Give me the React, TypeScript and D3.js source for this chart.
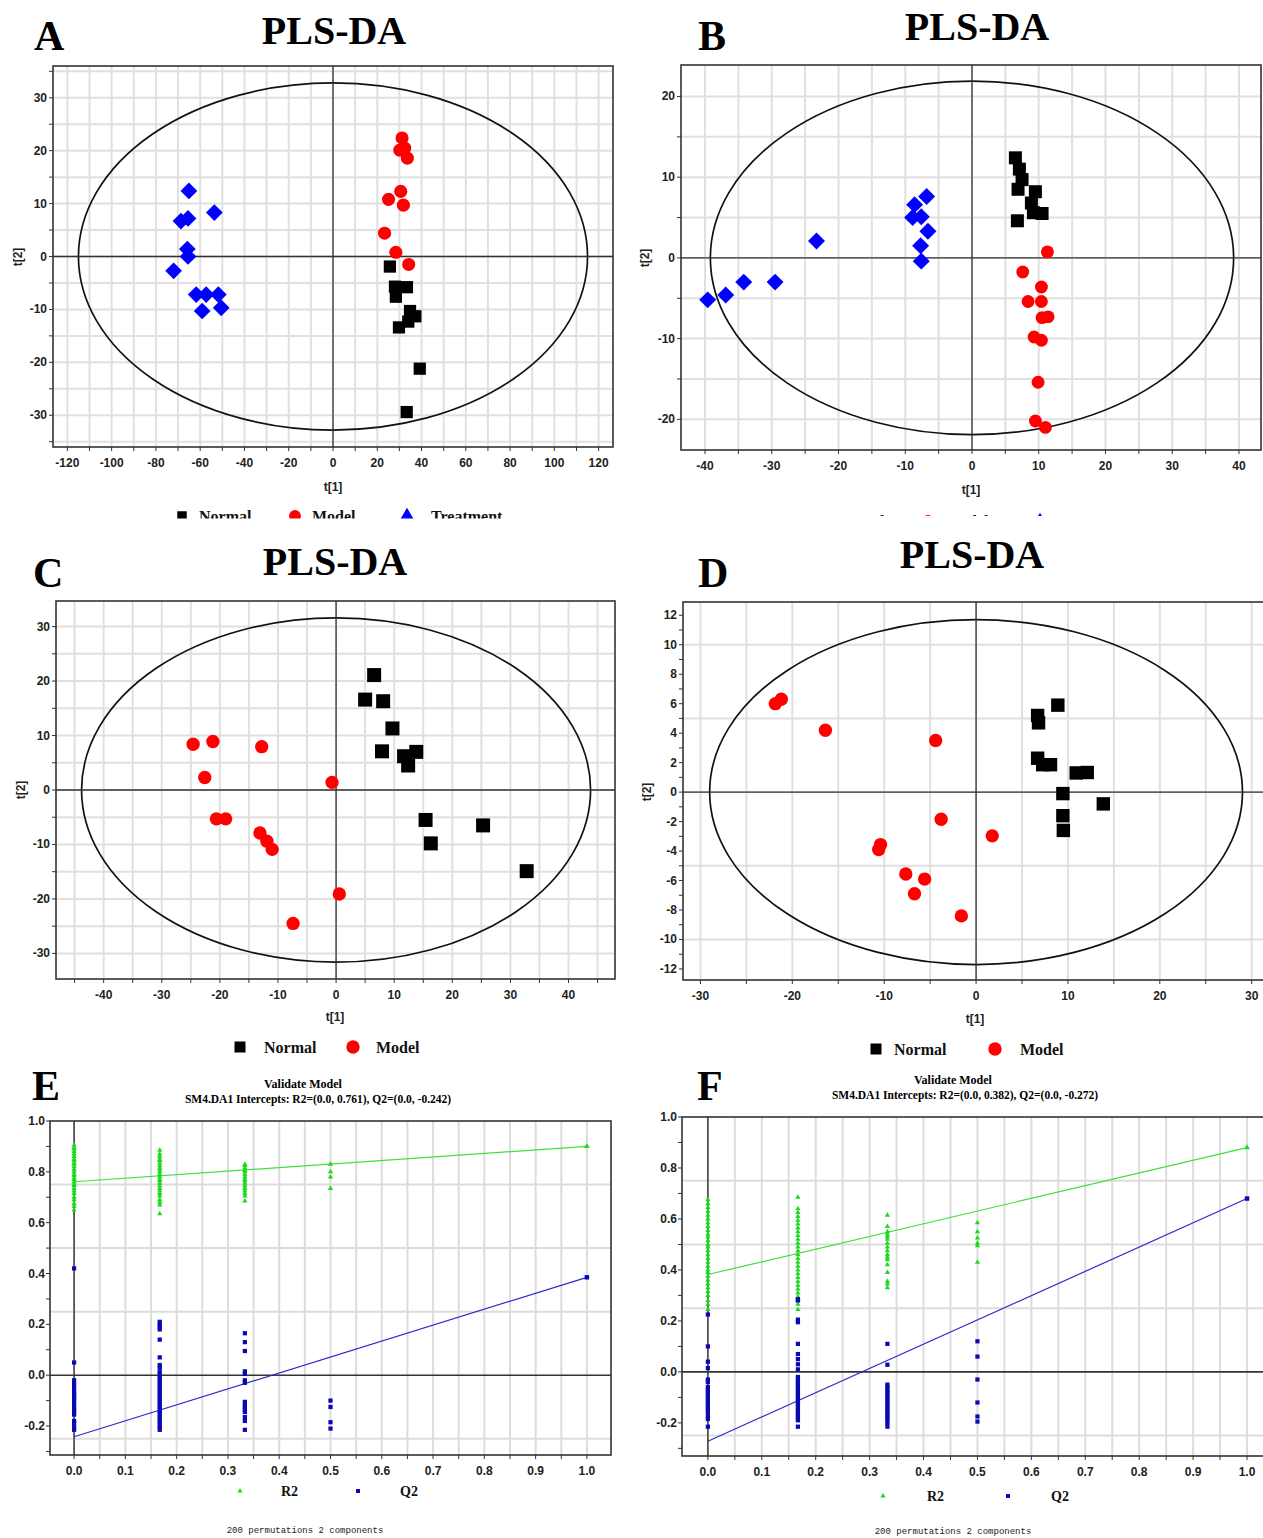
import React from "react";
import * as d3 from "d3";

type Pt = [number, number];
type Shape = "square" | "circle" | "diamond" | "triangle";

// ---------- score plots (t[1], t[2]) ----------
const aNormal: Pt[] = [[25.7, -1.9], [28, -5.7], [33.4, -5.8], [28.4, -7.6], [34.8, -10.3], [37.2, -11.3], [34, -12.3], [29.8, -13.4], [39.2, -21.2], [33.3, -29.4]];
const aModel: Pt[] = [[31.2, 22.4], [32.4, 20.5], [30.2, 20.1], [33.6, 18.6], [30.6, 12.3], [25.1, 10.8], [31.8, 9.7], [23.3, 4.4], [28.4, 0.8], [34.2, -1.5]];
const aTreatment: Pt[] = [[-65.1, 12.4], [-68.7, 6.7], [-65.5, 7.2], [-53.6, 8.3], [-65.8, 1.4], [-65.5, 0], [-72, -2.7], [-61.8, -7.2], [-57.3, -7.2], [-51.8, -7.2], [-59.1, -10.3], [-50.5, -9.7]];

const bNormal: Pt[] = [[6.5, 12.4], [7.1, 11.0], [7.5, 9.7], [6.9, 8.5], [9.5, 8.2], [8.9, 6.8], [9.2, 5.6], [10.5, 5.5], [6.8, 4.6]];
const bModel: Pt[] = [[11.3, 0.75], [7.6, -1.75], [10.4, -3.6], [8.4, -5.4], [10.4, -5.4], [10.5, -7.4], [11.4, -7.3], [9.3, -9.8], [10.4, -10.2], [9.9, -15.4], [9.5, -20.2], [11.0, -21.0]];
const bTreatment: Pt[] = [[-39.6, -5.2], [-36.9, -4.6], [-34.2, -3.0], [-29.5, -3.0], [-23.3, 2.1], [-6.8, 7.6], [-8.6, 6.6], [-8.9, 5.0], [-7.6, 5.1], [-6.6, 3.3], [-7.7, 1.5], [-7.6, -0.4]];

const cNormal: Pt[] = [[6.55, 21.1], [5.0, 16.6], [8.1, 16.3], [9.7, 11.3], [7.9, 7.1], [11.7, 6.2], [13.8, 7.0], [12.4, 4.5], [15.4, -5.5], [16.3, -9.8], [25.3, -6.5], [32.8, -14.9]];
const cModel: Pt[] = [[-24.6, 8.4], [-21.2, 8.9], [-12.8, 7.95], [-22.6, 2.3], [-0.7, 1.4], [-20.6, -5.3], [-19.0, -5.3], [-13.1, -7.9], [-11.9, -9.4], [-11.0, -10.9], [0.55, -19.1], [-7.4, -24.5]];

const dNormal: Pt[] = [[8.9, 5.9], [6.7, 5.2], [6.8, 4.7], [6.7, 2.3], [7.25, 1.86], [8.1, 1.86], [10.9, 1.3], [12.1, 1.33], [9.45, -0.1], [13.85, -0.8], [9.45, -1.6], [9.5, -2.6]];
const dModel: Pt[] = [[-21.85, 6.0], [-21.2, 6.3], [-16.4, 4.2], [-4.4, 3.5], [-3.8, -1.84], [1.76, -2.97], [-10.4, -3.56], [-10.6, -3.9], [-7.65, -5.56], [-5.6, -5.9], [-6.7, -6.9], [-1.6, -8.4]];

// tick labels
const aXTicks = [-120, -100, -80, -60, -40, -20, 0, 20, 40, 60, 80, 100, 120];
const aYTicks = [-30, -20, -10, 0, 10, 20, 30];
const bXTicks = [-40, -30, -20, -10, 0, 10, 20, 30, 40];
const bYTicks = [-20, -10, 0, 10, 20];
const cXTicks = [-40, -30, -20, -10, 0, 10, 20, 30, 40];
const cYTicks = [-30, -20, -10, 0, 10, 20, 30];
const dXTicks = [-30, -20, -10, 0, 10, 20, 30];
const dYTicks = [-12, -10, -8, -6, -4, -2, 0, 2, 4, 6, 8, 10, 12];

// ---------- permutation tests ----------
const permX = [0, 0.167, 0.333, 0.5];
const eR2: number[][] = [
  [0.905, 0.895, 0.89, 0.88, 0.87, 0.86, 0.85, 0.845, 0.835, 0.83, 0.82, 0.81, 0.8, 0.79, 0.785, 0.775, 0.77, 0.76, 0.75, 0.745, 0.735, 0.725, 0.715, 0.7, 0.69, 0.675, 0.665, 0.65],
  [0.885, 0.87, 0.86, 0.85, 0.845, 0.835, 0.825, 0.815, 0.81, 0.8, 0.79, 0.78, 0.77, 0.765, 0.755, 0.745, 0.735, 0.725, 0.715, 0.705, 0.69, 0.68, 0.67, 0.635],
  [0.83, 0.825, 0.815, 0.805, 0.8, 0.79, 0.78, 0.77, 0.765, 0.755, 0.745, 0.735, 0.725, 0.715, 0.705, 0.685],
  [0.83, 0.8, 0.78, 0.735],
];
const eQ2: number[][] = [
  [0.42, 0.05, -0.02, -0.035, -0.05, -0.065, -0.075, -0.085, -0.095, -0.11, -0.125, -0.135, -0.145, -0.155, -0.18, -0.19, -0.205, -0.215],
  [0.21, 0.2, 0.19, 0.18, 0.14, 0.07, 0.04, 0.03, 0.015, 0.005, -0.005, -0.015, -0.025, -0.035, -0.045, -0.055, -0.065, -0.075, -0.085, -0.095, -0.105, -0.115, -0.125, -0.135, -0.145, -0.155, -0.165, -0.175, -0.185, -0.195, -0.205, -0.215],
  [0.165, 0.13, 0.095, 0.015, 0.005, -0.02, -0.03, -0.105, -0.115, -0.125, -0.135, -0.145, -0.165, -0.18, -0.215],
  [-0.1, -0.125, -0.185, -0.21],
];
const eOrig = { r2: 0.9, q2: 0.385 };
const eIntercept = { r2: 0.761, q2: -0.242 };

const fR2: number[][] = [
  [0.675, 0.66, 0.645, 0.63, 0.615, 0.6, 0.585, 0.57, 0.555, 0.54, 0.53, 0.515, 0.5, 0.49, 0.475, 0.46, 0.445, 0.43, 0.415, 0.4, 0.39, 0.375, 0.36, 0.345, 0.33, 0.315, 0.3, 0.28, 0.265, 0.245],
  [0.685, 0.64, 0.625, 0.61, 0.595, 0.58, 0.565, 0.55, 0.535, 0.52, 0.505, 0.49, 0.475, 0.46, 0.445, 0.43, 0.415, 0.4, 0.385, 0.37, 0.355, 0.34, 0.325, 0.31, 0.295, 0.28, 0.265, 0.245],
  [0.615, 0.57, 0.55, 0.54, 0.53, 0.52, 0.505, 0.49, 0.475, 0.46, 0.45, 0.44, 0.42, 0.39, 0.355, 0.345, 0.33],
  [0.585, 0.55, 0.525, 0.505, 0.495, 0.43],
];
const fQ2: number[][] = [
  [0.225, 0.1, 0.04, 0.015, -0.03, -0.04, -0.06, -0.07, -0.08, -0.09, -0.1, -0.11, -0.12, -0.13, -0.14, -0.15, -0.16, -0.175, -0.185, -0.215],
  [0.285, 0.28, 0.205, 0.195, 0.11, 0.07, 0.05, 0.03, 0.01, -0.02, -0.03, -0.04, -0.05, -0.06, -0.07, -0.08, -0.09, -0.1, -0.11, -0.12, -0.13, -0.14, -0.15, -0.16, -0.17, -0.18, -0.19, -0.215],
  [0.11, 0.028, -0.05, -0.06, -0.07, -0.08, -0.09, -0.1, -0.11, -0.12, -0.13, -0.14, -0.15, -0.16, -0.17, -0.18, -0.19, -0.2, -0.215],
  [0.12, 0.06, -0.03, -0.12, -0.175, -0.195],
];
const fOrig = { r2: 0.88, q2: 0.68 };
const fIntercept = { r2: 0.382, q2: -0.272 };

const permXTicks = [0, 0.1, 0.2, 0.3, 0.4, 0.5, 0.6, 0.7, 0.8, 0.9, 1.0];
const permYTicks = [-0.2, 0, 0.2, 0.4, 0.6, 0.8, 1.0];
const permGridY = [-0.25, 0.25, 0.5, 0.75];

const SANS = "'Liberation Sans', Arial, sans-serif";
const SERIF = "'Liberation Serif', 'Times New Roman', serif";
const MONO = "'Liberation Mono', 'DejaVu Sans Mono', monospace";
const RED = "#ff0000";
const BLUE = "#0000ff";
const GREEN = "#1ed81e";
const NAVY = "#0a0ab4";

type Box = { left: number; right: number; top: number; bottom: number };

// multiples of step inside [lo, hi]
function steps(dom: number[], step: number) {
  const a = Math.ceil(dom[0] / step - 1e-9);
  const b = Math.floor(dom[1] / step + 1e-9);
  return d3.range(a, b + 1).map((k) => +(k * step).toFixed(6));
}

function Marker({ shape, color, size, cx, cy }: { shape: Shape; color: string; size: number; cx: number; cy: number }) {
  const type = shape === "circle" ? d3.symbolCircle : shape === "triangle" ? d3.symbolTriangle : d3.symbolSquare;
  const d = d3.symbol().type(type).size(size)() as string;
  const rot = shape === "diamond" ? " rotate(45)" : "";
  return <path d={d} transform={`translate(${cx},${cy})${rot}`} fill={color} />;
}

type Series = { data: Pt[]; shape: Shape; color: string; size: number };

function ScatterPanel(props: {
  id: string; box: Box; xDom: number[]; yDom: number[]; xTicks: number[]; yTicks: number[];
  xMinor: number; yMinor: number; gridX: number; gridY: number; ellipse: number[]; series: Series[];
  xTitle: number[]; yTitle: number[];
}) {
  const { id, box, xDom, yDom, xTicks, yTicks, xMinor, yMinor, gridX, gridY, ellipse, series } = props;
  const x = d3.scaleLinear().domain(xDom).range([box.left, box.right]);
  const y = d3.scaleLinear().domain(yDom).range([box.bottom, box.top]);
  return (
    <g>
      <defs>
        <clipPath id={id}>
          <rect x={box.left} y={box.top} width={box.right - box.left} height={box.bottom - box.top} />
        </clipPath>
      </defs>
      <g clipPath={`url(#${id})`}>
        {steps(xDom, gridX).map((v) => (
          <line key={"gx" + v} x1={x(v)} x2={x(v)} y1={box.top} y2={box.bottom} stroke="#e0e0e0" strokeWidth={2} />
        ))}
        {steps(yDom, gridY).map((v) => (
          <line key={"gy" + v} x1={box.left} x2={box.right} y1={y(v)} y2={y(v)} stroke="#e0e0e0" strokeWidth={2} />
        ))}
        <ellipse cx={x(0)} cy={y(0)} rx={x(ellipse[0]) - x(0)} ry={y(0) - y(ellipse[1])} fill="none" stroke="#111" strokeWidth={1.7} />
        <line x1={x(0)} x2={x(0)} y1={box.top} y2={box.bottom} stroke="#333" strokeWidth={1.3} />
        <line x1={box.left} x2={box.right} y1={y(0)} y2={y(0)} stroke="#333" strokeWidth={1.3} />
        {series.map((s, i) =>
          s.data.map((p, j) => <Marker key={i + "-" + j} shape={s.shape} color={s.color} size={s.size} cx={x(p[0])} cy={y(p[1])} />)
        )}
      </g>
      <rect x={box.left} y={box.top} width={box.right - box.left} height={box.bottom - box.top} fill="none" stroke="#333" strokeWidth={1.6} />
      {steps(xDom, xMinor).map((v) => (
        <line key={"tx" + v} x1={x(v)} x2={x(v)} y1={box.bottom} y2={box.bottom + 4} stroke="#333" strokeWidth={1} />
      ))}
      {steps(yDom, yMinor).map((v) => (
        <line key={"ty" + v} x1={box.left - 4} x2={box.left} y1={y(v)} y2={y(v)} stroke="#333" strokeWidth={1} />
      ))}
      <g fontFamily={SANS} fontWeight="bold" fontSize={12} fill="#222">
        {xTicks.map((v) => (
          <text key={"lx" + v} x={x(v)} y={box.bottom + 20} textAnchor="middle">{String(v)}</text>
        ))}
        {yTicks.map((v) => (
          <text key={"ly" + v} x={box.left - 6} y={y(v) + 4} textAnchor="end">{String(v)}</text>
        ))}
        <text x={props.xTitle[0]} y={props.xTitle[1]} textAnchor="middle">t[1]</text>
        <text transform={`translate(${props.yTitle[0]},${props.yTitle[1]}) rotate(-90)`} textAnchor="middle" dy="0.35em">t[2]</text>
      </g>
    </g>
  );
}

function PermPanel(props: {
  id: string; box: Box; xDom: number[]; yDom: number[]; r2: number[][]; q2: number[][];
  orig: { r2: number; q2: number }; intercept: { r2: number; q2: number };
}) {
  const { id, box, xDom, yDom, r2, q2, orig, intercept } = props;
  const x = d3.scaleLinear().domain(xDom).range([box.left, box.right]);
  const y = d3.scaleLinear().domain(yDom).range([box.bottom, box.top]);
  const line = d3.line<Pt>().x((d) => x(d[0])).y((d) => y(d[1]));
  return (
    <g>
      <defs>
        <clipPath id={id}>
          <rect x={box.left} y={box.top} width={box.right - box.left} height={box.bottom - box.top} />
        </clipPath>
      </defs>
      <g clipPath={`url(#${id})`}>
        {steps(xDom, 0.05).map((v) => (
          <line key={"gx" + v} x1={x(v)} x2={x(v)} y1={box.top} y2={box.bottom} stroke="#dcdcdc" strokeWidth={2} />
        ))}
        {permGridY.map((v) => (
          <line key={"gy" + v} x1={box.left} x2={box.right} y1={y(v)} y2={y(v)} stroke="#dcdcdc" strokeWidth={2} />
        ))}
        <line x1={x(0)} x2={x(0)} y1={box.top} y2={box.bottom} stroke="#555" strokeWidth={1.8} />
        <line x1={box.left} x2={box.right} y1={y(0)} y2={y(0)} stroke="#333" strokeWidth={1.6} />
        <path d={line([[0, intercept.r2], [1, orig.r2]]) as string} stroke="#3ee03e" strokeWidth={1.2} fill="none" />
        <path d={line([[0, intercept.q2], [1, orig.q2]]) as string} stroke="#2b2bc8" strokeWidth={1.2} fill="none" />
        {r2.map((col, i) =>
          col.map((v, j) => <Marker key={"r" + i + "-" + j} shape="triangle" color={GREEN} size={12} cx={x(permX[i])} cy={y(v)} />)
        )}
        {q2.map((col, i) =>
          col.map((v, j) => <Marker key={"q" + i + "-" + j} shape="square" color={NAVY} size={18} cx={x(permX[i])} cy={y(v)} />)
        )}
        <Marker shape="triangle" color={GREEN} size={14} cx={x(1)} cy={y(orig.r2)} />
        <Marker shape="square" color={NAVY} size={20} cx={x(1)} cy={y(orig.q2)} />
      </g>
      <rect x={box.left} y={box.top} width={box.right - box.left} height={box.bottom - box.top} fill="none" stroke="#333" strokeWidth={1.6} />
      {steps(xDom, 0.05).map((v) => (
        <line key={"tx" + v} x1={x(v)} x2={x(v)} y1={box.bottom} y2={box.bottom + 4} stroke="#333" strokeWidth={1} />
      ))}
      {steps(yDom, 0.1).map((v) => (
        <line key={"ty" + v} x1={box.left - 4} x2={box.left} y1={y(v)} y2={y(v)} stroke="#333" strokeWidth={1} />
      ))}
      <g fontFamily={SANS} fontWeight="bold" fontSize={12} fill="#222">
        {permXTicks.map((v) => (
          <text key={"lx" + v} x={x(v)} y={box.bottom + 20} textAnchor="middle">{v.toFixed(1)}</text>
        ))}
        {permYTicks.map((v) => (
          <text key={"ly" + v} x={box.left - 5} y={y(v) + 4} textAnchor="end">{v.toFixed(1)}</text>
        ))}
      </g>
    </g>
  );
}

type LegendItem = { shape: Shape; color: string; size: number; mx: number; tx: number; label: string };

function Legend({ items, y, fontSize, clipY, id }: { items: LegendItem[]; y: number; fontSize: number; clipY?: number; id: string }) {
  const body = (
    <g fontFamily={SERIF} fontWeight="bold" fontSize={fontSize} fill="#111">
      {items.map((it) => (
        <g key={it.label}>
          <Marker shape={it.shape} color={it.color} size={it.size} cx={it.mx} cy={y} />
          <text x={it.tx} y={y + fontSize * 0.35}>{it.label}</text>
        </g>
      ))}
    </g>
  );
  if (clipY === undefined) return body;
  return (
    <g>
      <defs>
        <clipPath id={id}>
          <rect x={0} y={0} width={1263} height={clipY} />
        </clipPath>
      </defs>
      <g clipPath={`url(#${id})`}>{body}</g>
    </g>
  );
}

function Heading({ letter, lx, ly, title, tx, ty }: { letter: string; lx: number; ly: number; title: string; tx: number; ty: number }) {
  return (
    <g fontFamily={SERIF} fontWeight="bold" fill="#000">
      <text x={lx} y={ly} fontSize={42}>{letter}</text>
      <text x={tx} y={ty} fontSize={40} textAnchor="middle">{title}</text>
    </g>
  );
}

function PermHeading({ letter, lx, ly, cx, cy, sx, sub }: { letter: string; lx: number; ly: number; cx: number; cy: number; sx: number; sub: string }) {
  return (
    <g fontFamily={SERIF} fontWeight="bold" fill="#000">
      <text x={lx} y={ly} fontSize={42}>{letter}</text>
      <text x={cx} y={cy} fontSize={12} textAnchor="middle">Validate Model</text>
      <text x={sx} y={cy + 15} fontSize={11.5} textAnchor="middle">{sub}</text>
    </g>
  );
}

export default function App() {
  const scoreLegend3 = (ox: number): LegendItem[] => [
    { shape: "square", color: "#000", size: 90, mx: ox, tx: ox + 17, label: "Normal" },
    { shape: "circle", color: RED, size: 110, mx: ox + 113, tx: ox + 130, label: "Model" },
    { shape: "triangle", color: BLUE, size: 90, mx: ox + 225, tx: ox + 249, label: "Treatment" },
  ];
  return (
    <svg width={1263} height={1538} style={{ position: "absolute", left: 0, top: 0, background: "#fff" }}>
      {/* A */}
      <Heading letter="A" lx={34} ly={50} title="PLS-DA" tx={334} ty={44} />
      <ScatterPanel
        id="clipA" box={{ left: 53, right: 613, top: 66, bottom: 447 }}
        xDom={[-126.5, 126.5]} yDom={[-36, 36]} xTicks={aXTicks} yTicks={aYTicks}
        xMinor={10} yMinor={5} gridX={10} gridY={5} ellipse={[115, 32.8]}
        xTitle={[333, 491]} yTitle={[18, 257]}
        series={[
          { data: aNormal, shape: "square", color: "#000", size: 150 },
          { data: aModel, shape: "circle", color: RED, size: 135 },
          { data: aTreatment, shape: "diamond", color: BLUE, size: 140 },
        ]}
      />
      <Legend id="clipLA" items={scoreLegend3(182)} y={516} fontSize={16} clipY={518.5} />

      {/* B */}
      <Heading letter="B" lx={698} ly={50} title="PLS-DA" tx={977} ty={40} />
      <ScatterPanel
        id="clipB" box={{ left: 681, right: 1261, top: 65, bottom: 450 }}
        xDom={[-43.6, 43.3]} yDom={[-23.8, 23.9]} xTicks={bXTicks} yTicks={bYTicks}
        xMinor={5} yMinor={5} gridX={5} gridY={5} ellipse={[39.2, 21.9]}
        xTitle={[971, 494]} yTitle={[645, 258]}
        series={[
          { data: bNormal, shape: "square", color: "#000", size: 169 },
          { data: bModel, shape: "circle", color: RED, size: 130 },
          { data: bTreatment, shape: "diamond", color: BLUE, size: 144 },
        ]}
      />
      <Legend id="clipLB" items={scoreLegend3(815)} y={521} fontSize={16} clipY={516} />

      {/* C */}
      <Heading letter="C" lx={33} ly={587} title="PLS-DA" tx={335} ty={575} />
      <ScatterPanel
        id="clipC" box={{ left: 56, right: 615, top: 601, bottom: 979 }}
        xDom={[-48.2, 48.0]} yDom={[-34.7, 34.7]} xTicks={cXTicks} yTicks={cYTicks}
        xMinor={5} yMinor={5} gridX={5} gridY={5} ellipse={[43.8, 31.6]}
        xTitle={[335, 1021]} yTitle={[21, 790]}
        series={[
          { data: cNormal, shape: "square", color: "#000", size: 196 },
          { data: cModel, shape: "circle", color: RED, size: 140 },
        ]}
      />
      <Legend
        id="clipLC" y={1047} fontSize={16}
        items={[
          { shape: "square", color: "#000", size: 121, mx: 240, tx: 264, label: "Normal" },
          { shape: "circle", color: RED, size: 140, mx: 353, tx: 376, label: "Model" },
        ]}
      />

      {/* D */}
      <Heading letter="D" lx={698} ly={587} title="PLS-DA" tx={972} ty={568} />
      <ScatterPanel
        id="clipD" box={{ left: 683, right: 1264, top: 602, bottom: 980 }}
        xDom={[-31.9, 31.34]} yDom={[-12.75, 12.9]} xTicks={dXTicks} yTicks={dYTicks}
        xMinor={5} yMinor={1} gridX={5} gridY={5} ellipse={[29, 11.7]}
        xTitle={[975, 1023]} yTitle={[647, 792]}
        series={[
          { data: dNormal, shape: "square", color: "#000", size: 180 },
          { data: dModel, shape: "circle", color: RED, size: 140 },
        ]}
      />
      <Legend
        id="clipLD" y={1049} fontSize={16}
        items={[
          { shape: "square", color: "#000", size: 121, mx: 876, tx: 894, label: "Normal" },
          { shape: "circle", color: RED, size: 140, mx: 995, tx: 1020, label: "Model" },
        ]}
      />

      {/* E */}
      <PermHeading letter="E" lx={32} ly={1100} cx={303} cy={1088} sx={318}
        sub="SM4.DA1 Intercepts: R2=(0.0, 0.761), Q2=(0.0, -0.242)" />
      <PermPanel id="clipE" box={{ left: 50, right: 611, top: 1121, bottom: 1455 }}
        xDom={[-0.047, 1.047]} yDom={[-0.314, 1.0]} r2={eR2} q2={eQ2} orig={eOrig} intercept={eIntercept} />
      <Legend
        id="clipLE" y={1491} fontSize={14}
        items={[
          { shape: "triangle", color: GREEN, size: 12, mx: 240, tx: 281, label: "R2" },
          { shape: "square", color: NAVY, size: 16, mx: 358, tx: 400, label: "Q2" },
        ]}
      />
      <text x={305} y={1533} fontFamily={MONO} fontSize={9} textAnchor="middle" fill="#222">200 permutations 2 components</text>

      {/* F */}
      <PermHeading letter="F" lx={697} ly={1100} cx={953} cy={1084} sx={965}
        sub="SM4.DA1 Intercepts: R2=(0.0, 0.382), Q2=(0.0, -0.272)" />
      <PermPanel id="clipF" box={{ left: 682, right: 1264, top: 1117, bottom: 1456 }}
        xDom={[-0.048, 1.0315]} yDom={[-0.33, 1.0]} r2={fR2} q2={fQ2} orig={fOrig} intercept={fIntercept} />
      <Legend
        id="clipLF" y={1496} fontSize={14}
        items={[
          { shape: "triangle", color: GREEN, size: 12, mx: 883, tx: 927, label: "R2" },
          { shape: "square", color: NAVY, size: 16, mx: 1008, tx: 1051, label: "Q2" },
        ]}
      />
      <text x={953} y={1534} fontFamily={MONO} fontSize={9} textAnchor="middle" fill="#222">200 permutations 2 components</text>
    </svg>
  );
}
